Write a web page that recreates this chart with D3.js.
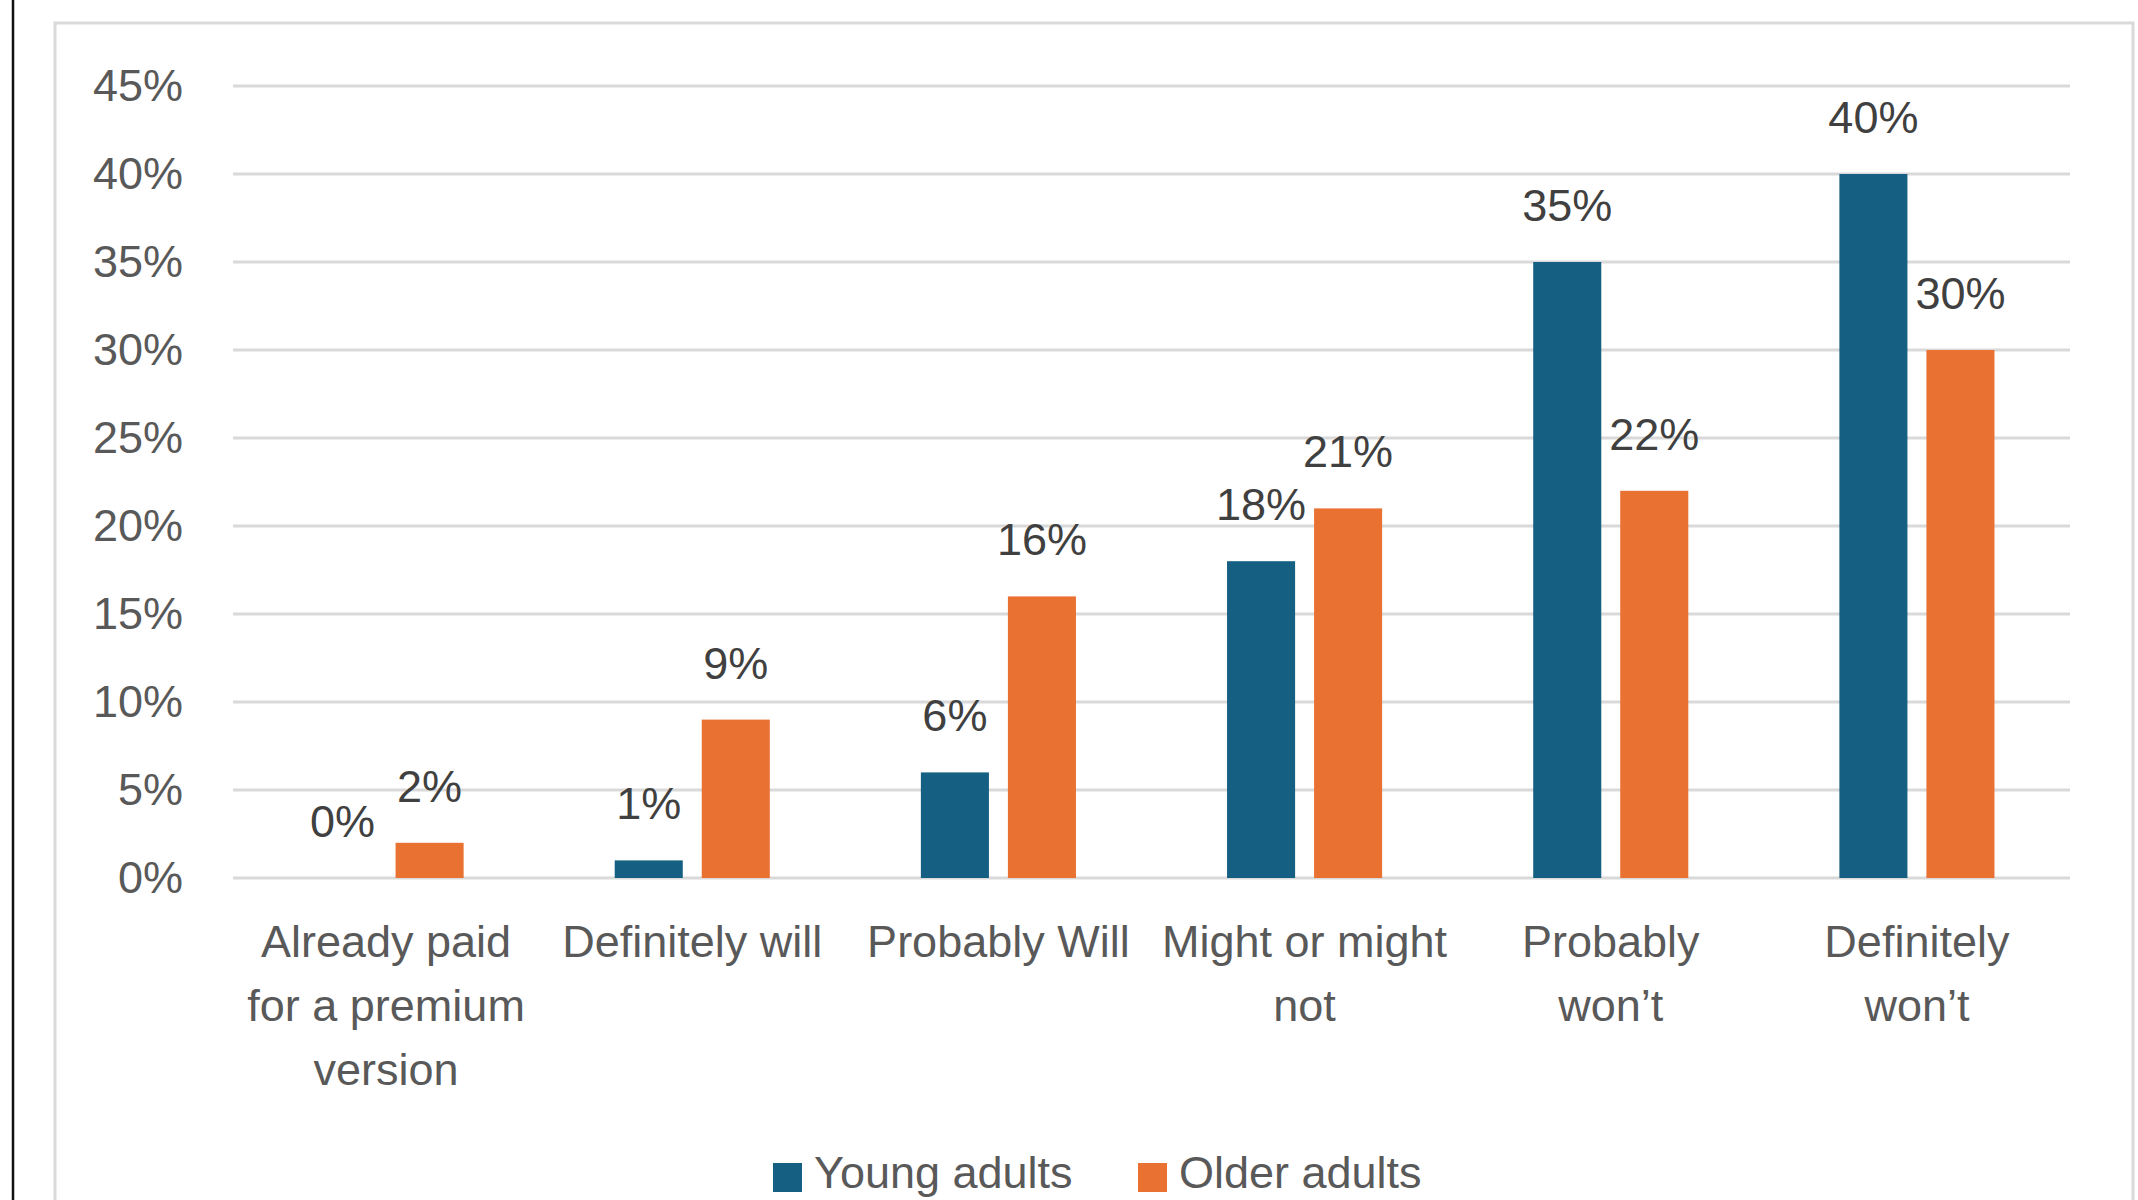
<!DOCTYPE html>
<html>
<head>
<meta charset="utf-8">
<script src="https://cdn.jsdelivr.net/npm/d3@7"></script>
<style>
  html, body { margin: 0; padding: 0; background: #fff; }
  svg { display: block; font-family: "Liberation Sans", Arial, sans-serif; }
</style>
</head>
<body>
<svg id="chart" width="2138" height="1200"></svg>
<script>
// data
const categories = [
    ["Already paid", "for a premium", "version"],
    ["Definitely will"],
    ["Probably Will"],
    ["Might or might", "not"],
    ["Probably", "won\u2019t"],
    ["Definitely", "won\u2019t"]
];
const seriesNames = ["Young adults", "Older adults"];
const youngAdults = [0.00, 0.01, 0.06, 0.18, 0.35, 0.40];
const olderAdults = [0.02, 0.09, 0.16, 0.21, 0.22, 0.30];
const yTicks = [0, 0.05, 0.10, 0.15, 0.20, 0.25, 0.30, 0.35, 0.40, 0.45];

const colors = { "Young adults": "#156082", "Older adults": "#e97132" };

const width = 2138;
const height = 1200;
const plot = { left: 233, right: 2070, top: 86, bottom: 878 };

const svg = d3.select("#chart");

svg.append("rect")
    .attr("width", width)
    .attr("height", height)
    .attr("fill", "#fff");

// black edge on the far left and the light chart frame
svg.append("line")
    .attr("x1", 13).attr("x2", 13)
    .attr("y1", 0).attr("y2", height)
    .attr("stroke", "#111")
    .attr("stroke-width", 2.5);

svg.append("rect")
    .attr("x", 55).attr("y", 23)
    .attr("width", 2133 - 55)
    .attr("height", height + 20)
    .attr("fill", "none")
    .attr("stroke", "#d9d9d9")
    .attr("stroke-width", 3);

const rows = categories.map((c, i) => ({
    idx: i,
    lines: c,
    values: [youngAdults[i], olderAdults[i]]
}));

const x0 = d3.scaleBand()
    .domain(d3.range(categories.length))
    .range([plot.left, plot.right])
    .padding(0);

const x1 = d3.scaleBand()
    .domain(seriesNames)
    .range([0, x0.bandwidth()])
    .paddingInner(0.218)
    .paddingOuter(0.868);

const y = d3.scaleLinear()
    .domain([0, 0.45])
    .range([plot.bottom, plot.top]);

// gridlines
svg.append("g")
    .selectAll("line")
    .data(yTicks)
    .join("line")
    .attr("x1", plot.left)
    .attr("x2", plot.right)
    .attr("y1", d => y(d))
    .attr("y2", d => y(d))
    .attr("stroke", "#d9d9d9")
    .attr("stroke-width", 3);

// y axis labels
const yAxis = svg.append("g")
    .attr("transform", `translate(${plot.left - 50},0)`)
    .call(d3.axisLeft(y).tickValues(yTicks).tickFormat(d3.format(".0%")).tickSize(0).tickPadding(0));
yAxis.select(".domain").remove();
yAxis.selectAll("text")
    .attr("font-size", 45)
    .attr("font-family", "Liberation Sans, Arial, sans-serif")
    .attr("fill", "#595959");

// bars
const groups = svg.append("g")
    .selectAll("g")
    .data(rows)
    .join("g")
    .attr("transform", d => `translate(${x0(d.idx)},0)`);

groups.selectAll("rect")
    .data(d => seriesNames.map((s, j) => ({ series: s, value: d.values[j] })))
    .join("rect")
    .attr("x", d => x1(d.series))
    .attr("width", x1.bandwidth())
    .attr("y", d => y(d.value))
    .attr("height", d => y(0) - y(d.value))
    .attr("fill", d => colors[d.series]);

groups.selectAll("text.val")
    .data(d => seriesNames.map((s, j) => ({ series: s, value: d.values[j] })))
    .join("text")
    .attr("class", "val")
    .attr("x", d => x1(d.series) + x1.bandwidth() / 2)
    .attr("y", d => y(d.value) - 41)
    .attr("text-anchor", "middle")
    .attr("font-size", 45)
    .attr("fill", "#404040")
    .text(d => d3.format(".0%")(d.value));

// category labels
groups.append("text")
    .attr("x", x0.bandwidth() / 2)
    .attr("y", plot.bottom + 79)
    .attr("text-anchor", "middle")
    .attr("font-size", 45)
    .attr("fill", "#595959")
    .selectAll("tspan")
    .data(d => d.lines)
    .join("tspan")
    .attr("x", x0.bandwidth() / 2)
    .attr("dy", (d, i) => i === 0 ? 0 : 64)
    .text(d => d);

// legend (sits at the very bottom edge, as in the reference)
const legendItems = [
    { name: seriesNames[0], x: 773 },
    { name: seriesNames[1], x: 1138 }
];
const legend = svg.append("g")
    .selectAll("g")
    .data(legendItems)
    .join("g")
    .attr("transform", d => `translate(${d.x},0)`);

legend.append("rect")
    .attr("x", 0)
    .attr("y", 1163)
    .attr("width", 29)
    .attr("height", 29)
    .attr("fill", d => colors[d.name]);

legend.append("text")
    .attr("x", 41)
    .attr("y", 1188)
    .attr("font-size", 45)
    .attr("fill", "#595959")
    .text(d => d.name);
</script>
</body>
</html>
